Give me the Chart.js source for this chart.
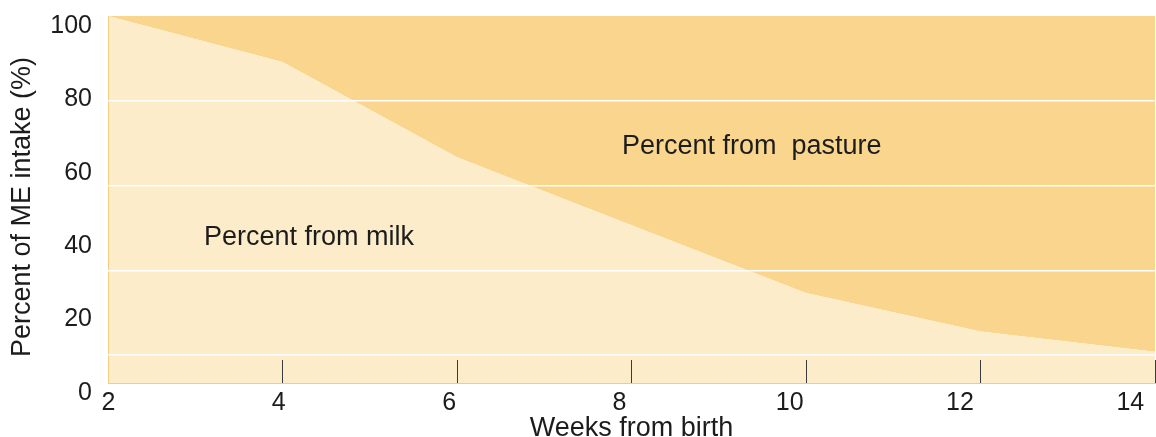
<!DOCTYPE html>
<html>
<head>
<meta charset="utf-8">
<script src="https://cdn.jsdelivr.net/npm/chart.js@4"></script>
<style>
  html, body { margin: 0; padding: 0; background: #fff; }
  #wrap { width: 1156px; height: 437px; }
</style>
</head>
<body>
<div id="wrap"><canvas id="myChart"></canvas></div>
<script>
// data
const weeks = [2, 4, 6, 8, 10, 12, 14];
const fromMilk = [100, 87.5, 61.5, 43, 24.5, 14, 8.5];
const fromPasture = [0, 12.5, 38.5, 57, 75.5, 86, 91.5];
const yTicks = [0, 20, 40, 60, 80, 100];

// labels drawn inside the plot: [text, week, percent]
const areaLabels = [
  ['Percent from milk', 3.1, 37.6],
  ['Percent from  pasture', 7.89, 62.4]
];

const FONT = "'Liberation Sans', Arial, Helvetica, sans-serif";
const INK = '#1c1c1c';

const areaText = {
  id: 'areaText',
  afterDraw(chart) {
    const { ctx, scales } = chart;
    ctx.save();
    ctx.font = '27px ' + FONT;
    ctx.fillStyle = INK;
    ctx.textAlign = 'left';
    ctx.textBaseline = 'alphabetic';
    areaLabels.forEach(([t, wx, py]) => {
      ctx.fillText(t, scales.x.getPixelForValue(wx), scales.y.getPixelForValue(py));
    });
    ctx.restore();
  }
};

const data = {
  labels: weeks,
  datasets: [{
    label: 'Percent from milk',
    data: weeks.map((w, i) => ({ x: w, y: fromMilk[i] })),
    backgroundColor: '#fdecc9',
    borderWidth: 0,
    pointRadius: 0,
    tension: 0,
    fill: 'origin'
  }, {
    label: 'Percent from pasture',
    data: weeks.map((w, i) => ({ x: w, y: fromPasture[i] })),
    backgroundColor: '#f9d58d',
    borderWidth: 0,
    pointRadius: 0,
    tension: 0,
    fill: '-1'
  }]
};

const config = {
  type: 'line',
  data,
  options: {
    responsive: true,
    maintainAspectRatio: false,
    animation: false,
    layout: { padding: { top: 16, right: 1, left: 0, bottom: 0 } },
    scales: {
      x: {
        type: 'linear',
        min: 2,
        max: 14,
        weight: 0,
        ticks: { display: false, stepSize: 2 },
        grid: {
          z: 1,
          drawOnChartArea: false,
          drawTicks: true,
          tickLength: -23,
          color: '#3a3a3a',
          lineWidth: 1
        },
        border: { display: true, color: '#f4cd85', width: 1, z: 1 },
        afterFit: s => { s.height = 0; }
      },
      // tick labels of the x axis sit a little off the tick marks in the original
      x2: {
        type: 'linear',
        position: 'bottom',
        min: 1.994,
        max: 14.29,
        weight: 1,
        ticks: {
          stepSize: 2,
          includeBounds: false,
          font: { family: FONT, size: 25, lineHeight: 1 },
          color: INK,
          padding: 0
        },
        grid: { display: false },
        border: { display: false },
        title: {
          display: true,
          text: 'Weeks from birth',
          font: { family: FONT, size: 27, lineHeight: 0.66 },
          color: INK,
          padding: 0
        },
        afterFit: s => { s.height = 54; s.paddingLeft = 0; s.paddingRight = 0; }
      },
      y: {
        stacked: true,
        min: 0,
        max: 100,
        afterBuildTicks: s => { s.ticks = yTicks.map(v => ({ value: v })); },
        ticks: {
          font: { family: FONT, size: 25 },
          color: INK,
          padding: 16,
          labelOffset: 10
        },
        grid: { display: false, drawTicks: false },
        border: { display: true, color: '#f4cd85', width: 1, z: 1 },
        title: {
          display: true,
          // trailing spaces nudge the rotated title down a little, as in the original
          text: 'Percent of ME intake (%)  ',
          font: { family: FONT, size: 27, lineHeight: 1 },
          color: INK,
          padding: { top: 9, bottom: 0 }
        },
        afterFit: s => { s.width = 108; s.paddingTop = 0; s.paddingBottom = 0; }
      },
      // white rules of the original use their own spacing
      y2: {
        position: 'left',
        min: 13.44,
        max: 100,
        ticks: { display: false, stepSize: 20, includeBounds: false },
        grid: {
          z: 1,
          drawTicks: false,
          color: c => (c.tick && c.tick.value < 100) ? 'rgba(255,255,255,0.95)' : 'rgba(0,0,0,0)',
          lineWidth: 1.5
        },
        border: { display: false },
        afterFit: s => { s.width = 0; s.paddingTop = 0; s.paddingBottom = 0; }
      }
    },
    plugins: {
      legend: { display: false },
      tooltip: { enabled: false }
    }
  },
  plugins: [areaText]
};

const myChart = new Chart(document.getElementById('myChart'), config);
</script>
</body>
</html>
